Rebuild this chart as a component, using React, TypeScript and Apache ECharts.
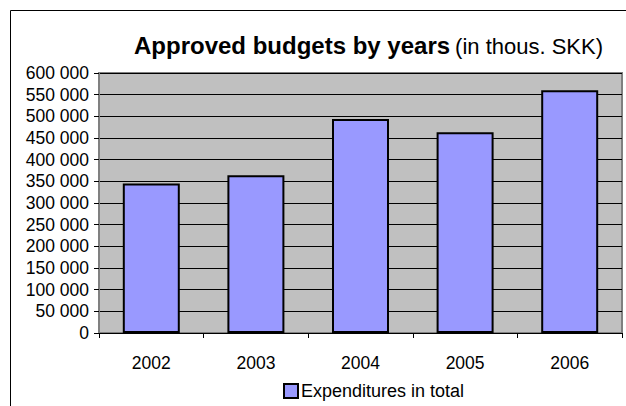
import React, { useEffect, useRef } from "react";
import * as echarts from "echarts";

const categories = ["2002", "2003", "2004", "2005", "2006"];
const expenditures = [345000, 364000, 494000, 463000, 560000];
const seriesName = "Expenditures in total";
const titleBold = "Approved budgets by years";
const titleNormal = "(in thous. SKK)";

const fmt = (v: number) => String(v).replace(/\B(?=(\d{3})+(?!\d))/g, " ");

export default function App() {
  const ref = useRef<HTMLDivElement>(null);
  useEffect(() => {
    if (!ref.current) return;
    const chart = echarts.init(ref.current, null, { renderer: "svg" });
    const font = "'Liberation Sans', Arial, sans-serif";
    chart.setOption({
      animation: false,
      backgroundColor: "#ffffff",
      textStyle: { fontFamily: font },
      title: {
        text: `{b|${titleBold}} {n|${titleNormal}}`,
        left: 129,
        top: 22,
        textStyle: {
          fontWeight: "normal",
          rich: {
            b: { fontSize: 24, fontWeight: "bold", color: "#000", fontFamily: font, lineHeight: 30, verticalAlign: "bottom" },
            n: { fontSize: 22, fontWeight: "normal", color: "#000", fontFamily: font, lineHeight: 30, verticalAlign: "bottom" },
          },
        },
      },
      graphic: [
        {
          type: "rect",
          shape: { x: 10.5, y: 10.5, width: 700, height: 500 },
          style: { fill: "none", stroke: "#000", lineWidth: 1 },
          silent: true,
        },
      ],
      legend: {
        data: [seriesName],
        left: 278,
        top: 377,
        itemWidth: 14,
        itemHeight: 14,
        icon: "rect",
        textStyle: { fontSize: 18, color: "#000", fontFamily: font, padding: [0, 0, 0, -2] },
        itemStyle: { color: "#9999FF", borderColor: "#000", borderWidth: 2 },
      },
      grid: {
        left: 99,
        right: 4,
        top: 73,
        bottom: 73,
        show: true,
        backgroundColor: "#C0C0C0",
        borderColor: "#808080",
        borderWidth: 2,
      },
      xAxis: {
        type: "category",
        data: categories,
        axisLine: { show: true, lineStyle: { color: "#000", width: 1 } },
        axisTick: { show: true, length: 5, lineStyle: { color: "#000" } },
        axisLabel: { fontSize: 17.5, color: "#000", margin: 21, fontFamily: font },
      },
      yAxis: {
        type: "value",
        min: 0,
        max: 600000,
        interval: 50000,
        axisLine: { show: true, lineStyle: { color: "#808080", width: 2 } },
        axisTick: { show: true, length: 5, lineStyle: { color: "#000" } },
        axisLabel: { fontSize: 17.5, color: "#000", margin: 10, formatter: fmt, fontFamily: font },
        splitLine: { show: true, lineStyle: { color: "#000", width: 1 } },
      },
      series: [
        {
          name: seriesName,
          type: "bar",
          data: expenditures,
          barWidth: 57,
          itemStyle: { color: "#9999FF", borderColor: "#000", borderWidth: 2 },
        },
      ],
    });
    return () => chart.dispose();
  }, []);
  return <div ref={ref} style={{ position: "absolute", left: 0, top: 0, width: 626, height: 406 }} />;
}
